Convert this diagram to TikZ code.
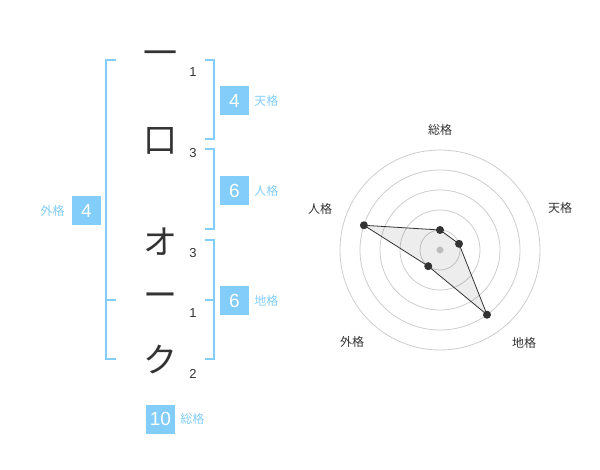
\documentclass[tikz,border=0pt]{standalone}
\usepackage{fontspec}
\setmainfont{Liberation Sans}
\newfontfamily\jpfont{Noto Sans CJK JP}
\usetikzlibrary{positioning,calc}

\definecolor{kakublue}{RGB}{130,205,250}
\definecolor{inkgray}{RGB}{51,51,51}
\definecolor{ringgray}{RGB}{205,205,205}

\begin{document}
\begin{tikzpicture}[
  x=1pt, y=-1pt,
  kanji/.style={inner sep=0pt, text=inkgray, font=\jpfont\fontsize{34}{34}\selectfont},
  strokes/.style={inner sep=0pt, text=inkgray, font=\fontsize{13}{13}\selectfont},
  kaku/.style={fill=kakublue, text=white, minimum size=29pt, inner sep=0pt,
               font=\fontsize{19}{19}\selectfont},
  kakuname/.style={inner sep=0pt, text=kakublue, font=\jpfont\fontsize{12}{12}\selectfont},
  brk/.style={draw=kakublue, line width=2pt},
  axislabel/.style={inner sep=0pt, text=inkgray, font=\jpfont\fontsize{12}{12}\selectfont},
  ring/.style={draw=ringgray, line width=0.8pt},
  dot/.style={circle, fill=inkgray, inner sep=0pt, minimum size=8pt}
]
\useasboundingbox (0,0) rectangle (600,470);

% name, one character per row
\node[kanji] (c1) at (160,58)  {一};
\node[kanji] (c2) at (160,141) {口};
\node[kanji] (c3) at (160,242) {オ};
\node[kanji] (c4) at (160,300) {ー};
\node[kanji] (c5) at (160,360) {ク};

\node[strokes] (s1) at (193,72)  {1};
\node[strokes] (s2) at (193,153) {3};
\node[strokes] (s3) at (193,253) {3};
\node[strokes] (s4) at (193,313) {1};
\node[strokes] (s5) at (193,374) {2};

% brackets
\draw[brk] (116,60) -- (106,60) -- (106,359) -- (116,359);
\draw[brk] (106,300) -- (116,300);
\draw[brk] (205,60) -- (214,60) -- (214,139) -- (205,139);
\draw[brk] (205,149) -- (214,149) -- (214,229) -- (205,229);
\draw[brk] (205,240) -- (214,240) -- (214,359) -- (205,359);
\draw[brk] (205,300) -- (214,300);

% kaku values
\node[kaku] (ten) at (234.5,100.5) {4};
\node[kakuname, right=5pt of ten] (tenname) {天格};
\node[kaku] (jin) at (234.5,190.5) {6};
\node[kakuname, right=5pt of jin] (jinname) {人格};
\node[kaku] (chi) at (234.5,300.5) {6};
\node[kakuname, right=5pt of chi] (chiname) {地格};
\node[kaku] (gai) at (86.5,210.5) {4};
\node[kakuname, left=7pt of gai] (gainame) {外格};
\node[kaku] (sou) at (160.5,419) {10};
\node[kakuname, right=5pt of sou] (souname) {総格};

% radar chart
\coordinate (rc) at (440,250);
\foreach \r in {20,40,...,100}
  \draw[ring] (rc) circle[radius=\r];
\fill[ringgray] (rc) circle[radius=3.5];

\coordinate (rsou) at ($(rc)+(-90:20)$);
\coordinate (rten) at ($(rc)+(-18:20)$);
\coordinate (rchi) at ($(rc)+(54:80)$);
\coordinate (rgai) at ($(rc)+(126:20)$);
\coordinate (rjin) at ($(rc)+(198:80)$);
\draw[inkgray, line width=0.8pt, fill=black, fill opacity=0.07]
  (rsou) -- (rten) -- (rchi) -- (rgai) -- (rjin) -- cycle;
\foreach \p in {rsou,rten,rchi,rgai,rjin}
  \node[dot] at (\p) {};

\node[axislabel] (lsou) at (440,130) {総格};
\node[axislabel] (lten) at (560,208) {天格};
\node[axislabel] (lchi) at (524,343) {地格};
\node[axislabel] (lgai) at (352,342) {外格};
\node[axislabel] (ljin) at (320,209) {人格};
\end{tikzpicture}
\end{document}
